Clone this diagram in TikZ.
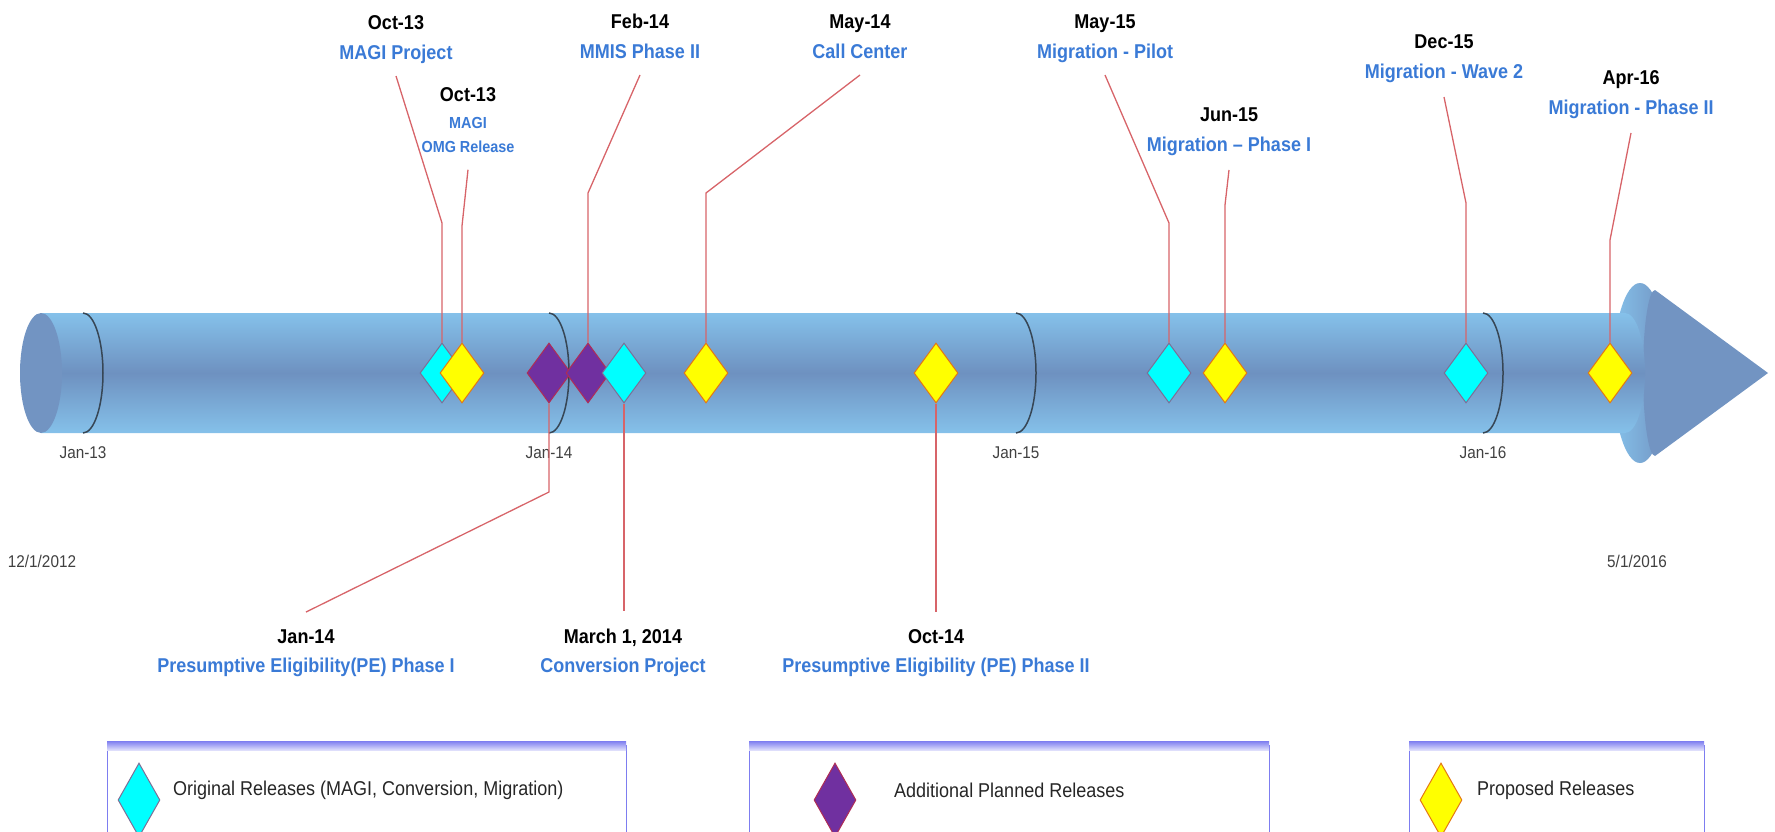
\documentclass[tikz,border=0pt]{standalone}
\usepackage{fontspec}
\setmainfont{Liberation Sans}[FakeStretch=0.9]
\usepackage{tikz}
\usetikzlibrary{shapes.geometric}

\definecolor{relcyan}{RGB}{0,255,255}
\definecolor{cyanedge}{RGB}{125,110,150}
\definecolor{relpurple}{RGB}{112,48,160}
\definecolor{purpleedge}{RGB}{175,45,85}
\definecolor{relyellow}{RGB}{255,255,0}
\definecolor{yellowedge}{RGB}{228,120,20}
\definecolor{leaderred}{RGB}{215,100,105}
\definecolor{titleblue}{RGB}{58,122,214}
\definecolor{tubelight}{RGB}{133,193,234}
\definecolor{tubedark}{RGB}{110,145,192}
\definecolor{capblue}{RGB}{114,148,194}
\definecolor{tickgray}{RGB}{55,70,85}
\definecolor{legendedge}{RGB}{125,125,240}

\tikzset{
  release/.style={diamond, draw, line width=1pt, minimum width=44pt, minimum height=60pt, inner sep=0pt},
  orig/.style={release, fill=relcyan, draw=cyanedge},
  addl/.style={release, fill=relpurple, draw=purpleedge},
  prop/.style={release, fill=relyellow, draw=yellowedge},
  leader/.style={draw=leaderred, line width=1.3pt},
  datelbl/.style={font=\bfseries\fontsize{20}{24}\selectfont, anchor=base, inner sep=0pt},
  titlelbl/.style={datelbl, text=titleblue},
  tickarc/.style={draw=tickgray, line width=1.5pt},
  ticklbl/.style={font=\fontsize{17}{20}\selectfont, text=black!75, inner sep=0pt},
  keylbl/.style={font=\fontsize{20}{24}\selectfont, text=black!85, anchor=west, inner sep=0pt}
}

\begin{document}
\begin{tikzpicture}[x=1pt,y=-1pt]
\useasboundingbox (0,0) rectangle (1775,832);
\clip (0,0) rectangle (1775,832);

% arrow head and tube
\shade[left color=tubelight, right color=capblue] (1640,373) ellipse [x radius=27, y radius=90];
\fill[capblue] (1655,290) -- (1768,373) -- (1655,456) arc[start angle=90, end angle=270, x radius=12, y radius=83] -- cycle;
\shade[top color=tubelight, bottom color=tubelight, middle color=tubedark] (41,313) -- (1625,313) arc[start angle=-90, end angle=90, x radius=20, y radius=60] -- (41,433) -- cycle;
\fill[capblue] (41,373) ellipse [x radius=21, y radius=60];

% years
\foreach \tx/\tl in {83/Jan-13, 549/Jan-14, 1016/Jan-15, 1483/Jan-16} {
  \draw[tickarc] (\tx,313) arc[start angle=-90, end angle=90, x radius=20, y radius=60];
  \node[ticklbl] (year-\tx) at (\tx,453) {\tl};
}
\node[ticklbl] (start) at (42,561) {12/1/2012};
\node[ticklbl] (end) at (1637,561) {5/1/2016};

% releases
\node[orig] (c1) at (442,373) {};
\node[prop] (y1) at (462,373) {};
\node[addl] (p1) at (549,373) {};
\node[addl] (p2) at (588,373) {};
\node[orig] (c2) at (624,373) {};
\node[prop] (y2) at (706,373) {};
\node[prop] (y3) at (936,373) {};
\node[orig] (c3) at (1169,373) {};
\node[prop] (y4) at (1225,373) {};
\node[orig] (c4) at (1466,373) {};
\node[prop] (y5) at (1610,373) {};

% labels above
\node[datelbl] (oct13a) at (396,30) {Oct-13};
\node[titlelbl] (magi) at (396,60) {MAGI Project};
\node[datelbl] (oct13b) at (468,102) {Oct-13};
\node[titlelbl, font=\bfseries\fontsize{16}{24}\selectfont, align=center, anchor=north] (omg) at (468,117) {MAGI\\OMG Release};
\node[datelbl] (feb14) at (640,29) {Feb-14};
\node[titlelbl] (mmis) at (640,59) {MMIS Phase II};
\node[datelbl] (may14) at (860,29) {May-14};
\node[titlelbl] (call) at (860,59) {Call Center};
\node[datelbl] (may15) at (1105,29) {May-15};
\node[titlelbl] (pilot) at (1105,59) {Migration - Pilot};
\node[datelbl] (jun15) at (1229,122) {Jun-15};
\node[titlelbl] (phasei) at (1229,152) {Migration -- Phase I};
\node[datelbl] (dec15) at (1444,49) {Dec-15};
\node[titlelbl] (wave) at (1444,79) {Migration - Wave 2};
\node[datelbl] (apr16) at (1631,85) {Apr-16};
\node[titlelbl] (phaseii) at (1631,115) {Migration - Phase II};

% labels below
\node[datelbl] (jan14) at (306,643) {Jan-14};
\node[titlelbl] (pei) at (306,672) {Presumptive Eligibility(PE) Phase I};
\node[datelbl] (mar14) at (623,643) {March 1, 2014};
\node[titlelbl] (conv) at (623,672) {Conversion Project};
\node[datelbl] (oct14) at (936,643) {Oct-14};
\node[titlelbl] (peii) at (936,672) {Presumptive Eligibility (PE) Phase II};

% leaders
\draw[leader] ([yshift=-16pt]magi.base) -- (442,223) -- (c1.north);
\draw[leader] ([yshift=-17pt]omg.south) -- (462,226) -- (y1.north);
\draw[leader] ([yshift=-16pt]mmis.base) -- (588,193) -- (p2.north);
\draw[leader] ([yshift=-16pt]call.base) -- (706,193) -- (y2.north);
\draw[leader] ([yshift=-16pt]pilot.base) -- (1169,223) -- (c3.north);
\draw[leader] ([yshift=-18pt]phasei.base) -- (1225,205) -- (y4.north);
\draw[leader] ([yshift=-18pt]wave.base) -- (1466,203) -- (c4.north);
\draw[leader] ([yshift=-18pt]phaseii.base) -- (1610,240) -- (y5.north);
\draw[leader] (p1.south) -- (549,492) -- ([yshift=17pt]jan14.north);
\draw[leader] (c2.south) -- ([yshift=17pt]mar14.north -| c2.south);
\draw[leader] (y3.south) -- ([yshift=17pt]oct14.north -| y3.south);

% legend
\foreach \lx/\rx in {107/626, 749/1269, 1409/1704} {
  \draw[legendedge, line width=1pt] (\lx,745) rectangle (\rx,870);
  \shade[top color=legendedge, bottom color=legendedge!25] (\lx,741) rectangle (\rx,750);
}
\node[orig, minimum width=42pt, minimum height=74pt] (keyorig) at (139,800) {};
\node[addl, minimum width=42pt, minimum height=74pt] (keyaddl) at (835,800) {};
\node[prop, minimum width=42pt, minimum height=74pt] (keyprop) at (1441,800) {};
\node[keylbl] (keyorigtxt) at (173,790) {Original Releases (MAGI, Conversion, Migration)};
\node[keylbl] (keyaddltxt) at (894,790) {Additional Planned Releases};
\node[keylbl] (keyproptxt) at (1477,790) {Proposed Releases};
\end{tikzpicture}
\end{document}
